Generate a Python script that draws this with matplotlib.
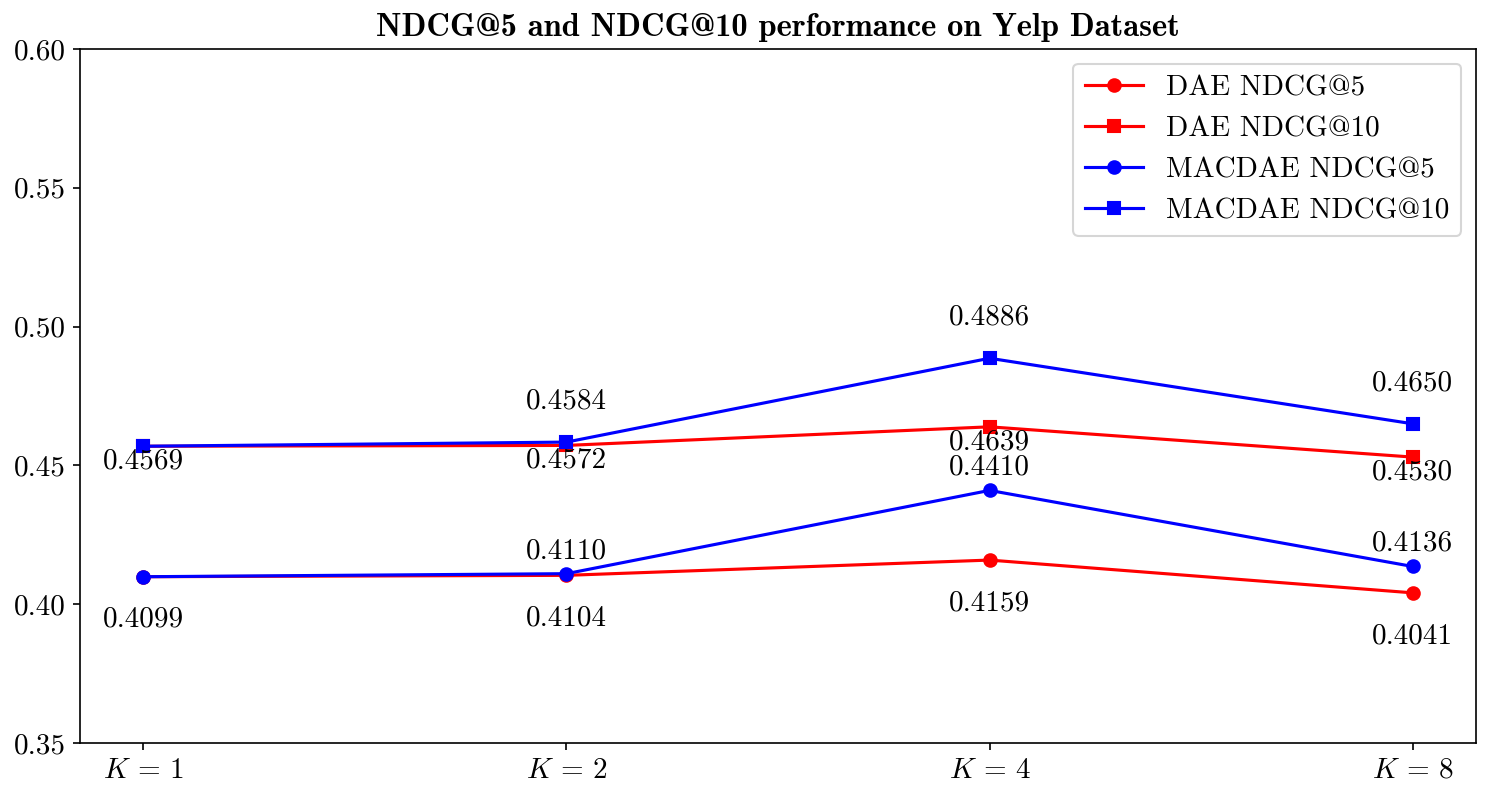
import matplotlib
matplotlib.use("Agg")
import matplotlib.pyplot as plt
import numpy as np

plt.rcParams["font.family"] = "serif"
plt.rcParams["font.serif"] = ["cmr10"]
plt.rcParams["mathtext.fontset"] = "cm"
plt.rcParams["axes.formatter.use_mathtext"] = True
plt.rcParams["axes.unicode_minus"] = False

k_labels = [r"$K\,=\,1$", r"$K\,=\,2$", r"$K\,=\,4$", r"$K\,=\,8$"]
dae_ndcg5 = [0.4099, 0.4104, 0.4159, 0.4041]
dae_ndcg10 = [0.4569, 0.4572, 0.4639, 0.4530]
macdae_ndcg5 = [0.4099, 0.4110, 0.4410, 0.4136]
macdae_ndcg10 = [0.4569, 0.4584, 0.4886, 0.4650]

x = np.arange(len(k_labels))

fig, ax = plt.subplots(figsize=(9.987, 5.32), dpi=150)

ax.plot(x, dae_ndcg5, color="red", marker="o", label="DAE NDCG@5")
ax.plot(x, dae_ndcg10, color="red", marker="s", label="DAE NDCG@10")
ax.plot(x, macdae_ndcg5, color="blue", marker="o", label="MACDAE NDCG@5")
ax.plot(x, macdae_ndcg10, color="blue", marker="s", label="MACDAE NDCG@10")

fs = 14
# value labels: DAE below, MACDAE above (K=1 values coincide, so only DAE there)
for i in range(len(x)):
    ax.text(x[i], dae_ndcg5[i] - 0.0155, f"{dae_ndcg5[i]:.4f}", ha="center", va="center", fontsize=fs)
    ax.text(x[i], dae_ndcg10[i] - 0.0055, f"{dae_ndcg10[i]:.4f}", ha="center", va="center", fontsize=fs)
for i in range(1, len(x)):
    ax.text(x[i], macdae_ndcg5[i] + 0.0082, f"{macdae_ndcg5[i]:.4f}", ha="center", va="center", fontsize=fs)
    ax.text(x[i], macdae_ndcg10[i] + 0.0147, f"{macdae_ndcg10[i]:.4f}", ha="center", va="center", fontsize=fs)

yt = [0.35, 0.40, 0.45, 0.50, 0.55, 0.60]
ax.set_ylim(0.35, 0.60)
ax.set_yticks(yt)
ax.set_yticklabels([f"{v:.2f}" for v in yt])
ax.set_xticks(x)
ax.set_xticklabels(k_labels)
ax.tick_params(labelsize=fs)

ax.set_title("NDCG@5 and NDCG@10 performance on Yelp Dataset", fontsize=15.6, fontfamily="cmb10")
ax.legend(loc="upper right", fontsize=fs)

fig.subplots_adjust(left=0.0534, right=0.9853, top=0.9386, bottom=0.0689)
fig.savefig("out.png", dpi=150)
